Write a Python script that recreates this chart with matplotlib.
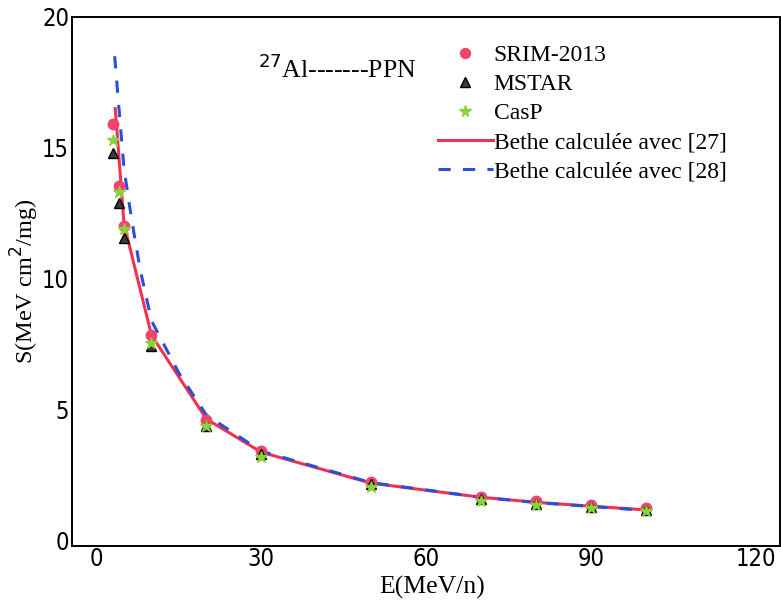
import numpy as np
import matplotlib.pyplot as plt
from matplotlib import font_manager

# Stopping power of 27Al in PPN: tabulated codes vs Bethe formula
E_pts = [3, 4, 5, 10, 20, 30, 50, 70, 80, 90, 100]
S_srim = [15.9, 13.55, 12.0, 7.85, 4.6, 3.42, 2.25, 1.68, 1.5, 1.37, 1.25]
S_mstar = [14.8, 12.9, 11.55, 7.45, 4.4, 3.3, 2.15, 1.6, 1.42, 1.3, 1.18]
S_casp = [15.3, 13.3, 11.9, 7.55, 4.4, 3.2, 2.05, 1.52, 1.36, 1.24, 1.12]

E_b27 = [3.4, 5, 10, 20, 30, 50, 70, 80, 90, 100]
S_b27 = [16.5, 12.1, 7.85, 4.65, 3.38, 2.2, 1.66, 1.47, 1.32, 1.18]

E_b28 = [3.3, 4, 5, 6, 7, 8, 10, 15, 20, 30, 50, 70, 80, 90, 100]
S_b28 = [18.5, 16.7, 14.2, 12.8, 11.5, 10.3, 8.4, 6.4, 4.8, 3.42, 2.22, 1.66, 1.46, 1.31, 1.16]

xticks = [0, 30, 60, 90, 120]
yticks = [0, 5, 10, 15, 20]

serif = ['Liberation Serif', 'DejaVu Serif']

# narrow sans for the tick numbers, whatever is available
names = {f.name for f in font_manager.fontManager.ttflist}
stretches = {(f.name, f.stretch) for f in font_manager.fontManager.ttflist}
if 'Liberation Sans Narrow' in names:
    tick_font = dict(family='Liberation Sans Narrow')
elif any(n == 'DejaVu Sans' and s == 'condensed' for n, s in stretches):
    tick_font = dict(family='DejaVu Sans', stretch='condensed')
else:
    tick_font = dict(family='Liberation Sans')

fig = plt.figure(figsize=(7.81, 6.04), dpi=100)
ax = fig.add_axes([0.092, 0.096, 0.907, 0.876])

ax.plot(E_b27, S_b27, color='#f2304f', lw=2.2, label='Bethe calculée avec [27]', zorder=3)
ax.plot(E_b28, S_b28, color='#2b4fd6', lw=2.2, ls=(0, (4, 4)), label='Bethe calculée avec [28]', zorder=4)
ax.plot(E_pts, S_srim, 'o', color='#f04468', ms=7.5, ls='none', label='SRIM-2013', zorder=5)
ax.plot(E_pts, S_mstar, '^', color='#3c3c3c', mec='black', ms=7.5, ls='none', label='MSTAR', zorder=6)
ax.plot(E_pts, S_casp, '*', color='#86d43a', ms=9, ls='none', label='CasP', zorder=7)

ax.set_xlim(-4.5, 124.5)
ax.set_ylim(-0.2, 20)
ax.set_xticks(xticks)
ax.set_yticks(yticks)
ax.tick_params(length=0, labelsize=17)
ax.tick_params(axis='x', pad=1)
ax.tick_params(axis='y', pad=2)
for lab in ax.get_xticklabels() + ax.get_yticklabels():
    lab.set(**tick_font)
for sp in ax.spines.values():
    sp.set_linewidth(1.4)

ax.set_xlabel('E(MeV/n)', family=serif, fontsize=18.5)
ax.set_ylabel('S(MeV cm$^2$/mg)', family=serif, fontsize=17.5)
ax.xaxis.set_label_coords(0.508, -0.056)
ax.yaxis.set_label_coords(-0.044, 0.5)

ax.text(0.330, 0.887, r'$^{27}$Al-------PPN', transform=fig.transFigure,
        family=serif, fontsize=18.5, va='center')

handles, labels = ax.get_legend_handles_labels()
order = [2, 3, 4, 0, 1]
ax.legend([handles[i] for i in order], [labels[i] for i in order],
          loc='upper left', bbox_to_anchor=(0.549, 0.942), bbox_transform=fig.transFigure,
          borderaxespad=0, frameon=False, prop={'family': serif, 'size': 17},
          handlelength=2.3, handletextpad=0.05, labelspacing=0.32, markerscale=0.95)

fig.savefig('out.png', dpi=100)
